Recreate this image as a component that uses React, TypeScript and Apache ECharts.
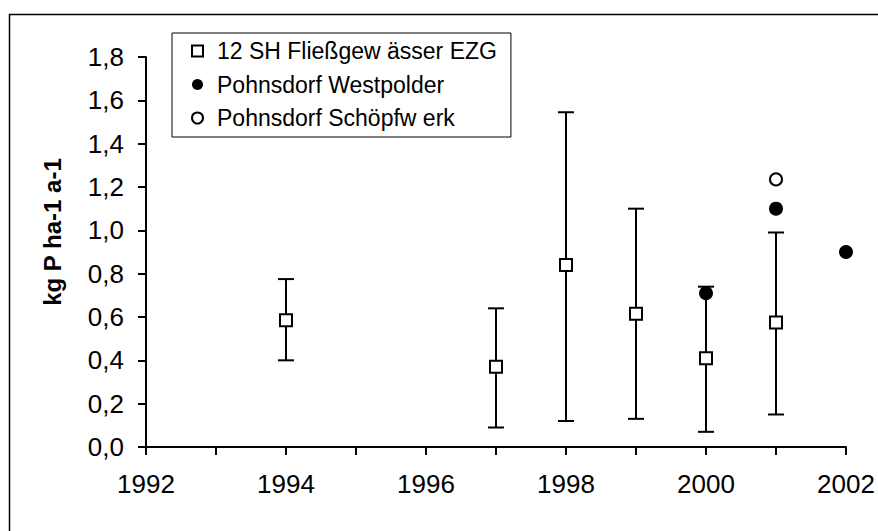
import React, { useEffect, useRef } from "react";
import * as echarts from "echarts";

// Mean annual phosphorus export of 12 Schleswig-Holstein catchments, with min/max range
const ezgYears = [1994, 1997, 1998, 1999, 2000, 2001];
const ezgMean = [0.585, 0.37, 0.84, 0.615, 0.41, 0.575];
const ezgLow = [0.4, 0.09, 0.12, 0.13, 0.07, 0.15];
const ezgHigh = [0.775, 0.64, 1.545, 1.1, 0.74, 0.99];

// Pohnsdorf sites
const westpolderYears = [2000, 2001, 2002];
const westpolderValues = [0.71, 1.1, 0.9];
const schoepfwerkYears = [2001];
const schoepfwerkValues = [1.235];

const seriesNames = [
  "12 SH Fließgew ässer EZG",
  "Pohnsdorf Westpolder",
  "Pohnsdorf Schöpfw erk",
];

const yTicks = { min: 0, max: 1.8, step: 0.2 };
const xTicks = { min: 1992, max: 2002, step: 1, labelEvery: 2 };

const FONT = "Liberation Sans, Arial, sans-serif";

export default function App() {
  const ref = useRef<HTMLDivElement>(null);

  useEffect(() => {
    if (!ref.current) return;
    const chart = echarts.init(ref.current, undefined, { renderer: "svg" });

    const rangeData = ezgYears.map((y, i) => [y, ezgLow[i], ezgHigh[i]]);
    const lineStyle = { stroke: "#000", lineWidth: 2 };

    chart.setOption({
      animation: false,
      backgroundColor: "#fff",
      textStyle: { fontFamily: FONT, color: "#000" },
      grid: { left: 146, right: 32, top: 57, bottom: 84, containLabel: false },
      graphic: [
        {
          type: "rect",
          left: 7,
          top: 12,
          shape: { x: 0, y: 0, width: 900, height: 600 },
          style: { fill: "none", stroke: "#000", lineWidth: 1.5 },
          silent: true,
          z: -10,
        },
      ],
      legend: {
        orient: "vertical",
        left: 172,
        top: 33,
        data: seriesNames,
        backgroundColor: "#fff",
        borderColor: "#000",
        borderWidth: 1,
        padding: [6, 14, 7, 19],
        itemWidth: 11,
        itemHeight: 11,
        itemGap: 9.5,
        textStyle: {
          fontFamily: FONT,
          fontSize: 23,
          color: "#000",
          lineHeight: 24,
          padding: [0, 0, 0, 9],
        },
      },
      xAxis: {
        type: "value",
        min: xTicks.min,
        max: xTicks.max,
        interval: xTicks.step,
        axisLine: { show: true, onZero: false, lineStyle: { color: "#000", width: 2 } },
        axisTick: { show: true, length: 8, lineStyle: { color: "#000", width: 2 } },
        axisLabel: {
          fontFamily: FONT,
          fontSize: 26,
          color: "#000",
          margin: 24,
          formatter: (v: number) =>
            (v - xTicks.min) % xTicks.labelEvery === 0 ? String(v) : "",
        },
        splitLine: { show: false },
      },
      yAxis: {
        type: "value",
        min: yTicks.min,
        max: yTicks.max,
        interval: yTicks.step,
        name: "kg P ha-1 a-1",
        nameLocation: "middle",
        nameRotate: 90,
        nameGap: 82,
        nameTextStyle: {
          fontFamily: FONT,
          fontSize: 24,
          fontWeight: "bold",
          color: "#000",
          padding: [0, 0, 0, 40],
        },
        axisLine: { show: true, lineStyle: { color: "#000", width: 2 } },
        axisTick: { show: true, length: 8, lineStyle: { color: "#000", width: 2 } },
        axisLabel: {
          fontFamily: FONT,
          fontSize: 26,
          color: "#000",
          margin: 22,
          formatter: (v: number) => v.toFixed(1).replace(".", ","),
        },
        splitLine: { show: false },
      },
      series: [
        {
          type: "custom",
          name: "range",
          data: rangeData,
          z: 1,
          renderItem: (_params: any, api: any) => {
            const x = api.value(0);
            const lo = api.coord([x, api.value(1)]);
            const hi = api.coord([x, api.value(2)]);
            const half = 8;
            return {
              type: "group",
              children: [
                { type: "line", shape: { x1: lo[0], y1: lo[1], x2: hi[0], y2: hi[1] }, style: lineStyle },
                { type: "line", shape: { x1: hi[0] - half, y1: hi[1], x2: hi[0] + half, y2: hi[1] }, style: lineStyle },
                { type: "line", shape: { x1: lo[0] - half, y1: lo[1], x2: lo[0] + half, y2: lo[1] }, style: lineStyle },
              ],
            };
          },
        },
        {
          type: "scatter",
          name: seriesNames[0],
          data: ezgYears.map((y, i) => [y, ezgMean[i]]),
          symbol: "rect",
          symbolSize: 12,
          z: 3,
          itemStyle: { color: "#fff", borderColor: "#000", borderWidth: 2, opacity: 1 },
        },
        {
          type: "scatter",
          name: seriesNames[1],
          data: westpolderYears.map((y, i) => [y, westpolderValues[i]]),
          symbol: "circle",
          symbolSize: 14,
          z: 3,
          itemStyle: { color: "#000", borderColor: "#000", borderWidth: 0, opacity: 1 },
        },
        {
          type: "scatter",
          name: seriesNames[2],
          data: schoepfwerkYears.map((y, i) => [y, schoepfwerkValues[i]]),
          symbol: "circle",
          symbolSize: 12,
          z: 3,
          itemStyle: { color: "#fff", borderColor: "#000", borderWidth: 2, opacity: 1 },
        },
      ],
    });

    return () => chart.dispose();
  }, []);

  return (
    <div
      ref={ref}
      style={{ position: "fixed", left: 0, top: 0, width: 878, height: 531, background: "#fff" }}
    />
  );
}
